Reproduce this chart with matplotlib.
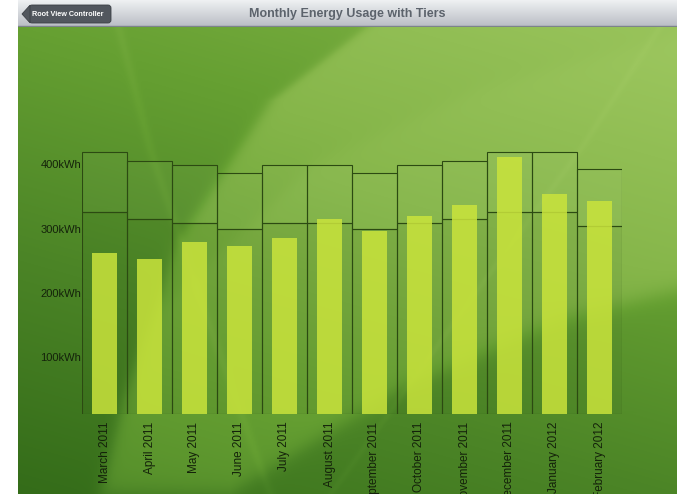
import numpy as np
import matplotlib
matplotlib.use("Agg")
from matplotlib import pyplot as plt
from matplotlib.patches import Polygon, FancyBboxPatch
from matplotlib.colors import LinearSegmentedColormap
import matplotlib.transforms as mtransforms

plt.rcParams['font.family'] = ['Liberation Sans', 'DejaVu Sans']

# data (kWh)
months = ["March 2011", "April 2011", "May 2011", "June 2011", "July 2011",
          "August 2011", "September 2011", "October 2011", "November 2011",
          "December 2011", "January 2012", "February 2012"]
usage = [249, 240, 267, 260, 273, 302, 284, 307, 324, 399, 342, 330]
tier1 = [313, 302, 297, 287, 297, 297, 287, 297, 302, 313, 313, 292]
tier2 = [406, 393, 386, 374, 386, 386, 374, 386, 393, 406, 406, 380]
y_ticks = [100, 200, 300, 400]
y_tick_labels = [f"{v}kWh" for v in y_ticks]
title = "Monthly Energy Usage with Tiers"
back_label = "Root View Controller"

W, H = 695, 494
fig = plt.figure(figsize=(W / 100, H / 100), dpi=100)
fig.patch.set_facecolor("white")

# ---- green wallpaper ----
sx0, sx1 = 18, 677
nav_h = 27
bw, bh = sx1 - sx0, H - nav_h
X, Y = np.meshgrid(np.arange(bw) + sx0, np.arange(bh) + nav_h)


def side_y(pts, soft):
    # ~1 below curve y=f(x)
    px, py = zip(*pts)
    return 1 / (1 + np.exp(-(Y - np.interp(X, px, py)) / soft))


def side_x(pts, soft):
    # ~1 right of curve x=g(y)
    py, px = zip(*pts)
    return 1 / (1 + np.exp(-(X - np.interp(Y, py, px)) / soft))


def streak(pts, width):
    py, px = zip(*pts)
    d = X - np.interp(Y, py, px)
    return np.exp(-(d / width) ** 2)


b = 0.5 + 0.2 * (X - sx0) / bw - 0.5 * (Y - nav_h) / bh
right_u = side_x([(27, 368), (101, 271), (241, 178), (400, 123), (494, 100)], 4)
below_l = side_y([(229, 494), (397, 390), (560, 320), (678, 290)], 6)
b += 0.26 * right_u * (1 - below_l)
b += 0.06 * right_u * below_l
arc = side_y([(170, 300), (313, 165), (480, 90), (678, 36)], 5)
b += 0.06 * right_u * arc * (1 - below_l)
b += 0.05 * streak([(27, 118), (150, 150), (300, 200), (494, 270)], 5)
b += 0.04 * streak([(27, 660), (150, 580), (300, 470), (494, 330)], 4)
b = np.clip(b, 0, 1)

cmap = LinearSegmentedColormap.from_list(
    "leaf", ["#346c19", "#4b8426", "#66a032", "#86b64a", "#9cc65e"])
bg = fig.add_axes([sx0 / W, 0, bw / W, bh / H])
bg.imshow(b, cmap=cmap, vmin=0, vmax=1, aspect="auto", interpolation="bilinear")
bg.axis("off")

# ---- navigation bar ----
nav = fig.add_axes([sx0 / W, (H - nav_h) / H, bw / W, nav_h / H])
grad = np.linspace(0, 1, nav_h)[:, None] * np.ones((1, 10))
navmap = LinearSegmentedColormap.from_list("nav", ["#eef0f2", "#b9bdc4"])
nav.imshow(grad, cmap=navmap, aspect="auto", extent=(0, bw, nav_h, 0))
nav.set_xlim(0, bw)
nav.set_ylim(nav_h, 0)
nav.axis("off")
nav.axhline(nav_h - 0.5, color="#7d838b", lw=1)
nav.text(329, 13.5, title, ha="center", va="center", fontsize=9,
         fontweight="bold", color="#5c636c")
nav.add_patch(FancyBboxPatch((11, 5), 82, 18, boxstyle="round,pad=0,rounding_size=3",
                             facecolor="#52575e", edgecolor="#3c4046", lw=0.6))
nav.add_patch(Polygon([(4, 14), (12, 5.2), (12, 22.8)], closed=True,
                      facecolor="#52575e", edgecolor="#3c4046", lw=0.6))
nav.text(50, 14, back_label, ha="center", va="center", fontsize=5.2,
         fontweight="bold", color="white")

# ---- chart ----
px_per_kwh = 0.643
ax_left, ax_right, ax_base, ax_top = 82, 622, 413.5, 30
ax = fig.add_axes([ax_left / W, (H - ax_base) / H, (ax_right - ax_left) / W,
                   (ax_base - ax_top) / H])
ax.patch.set_visible(False)
ax.set_xlim(-0.5, len(months) - 0.5)
ax.set_ylim(0, (ax_base - ax_top) / px_per_kwh)
for s in ax.spines.values():
    s.set_visible(False)

x = np.arange(len(months))
upper = np.array(tier2) - np.array(tier1)
ax.bar(x, tier1, width=1, facecolor=(0, 0.05, 0, 0.04), edgecolor="#2c4a12", lw=0.8)
ax.bar(x, upper, bottom=tier1, width=1, facecolor=(1, 1, 1, 0.03),
       edgecolor="#2c4a12", lw=0.8)
ax.bar(x, usage, width=0.556, color="#cae43c", alpha=0.85, lw=0)

ax.set_yticks(y_ticks, y_tick_labels)
ax.set_xticks(x, months, rotation=90)
ax.tick_params(axis="y", length=0, pad=0.5, labelsize=8, labelcolor="#14220a")
ax.tick_params(axis="x", length=0, pad=5.8, labelsize=8.5, labelcolor="#14220a")
shift = mtransforms.ScaledTranslation(0, -0.08, fig.dpi_scale_trans)
for lab in ax.get_yticklabels():
    lab.set_transform(lab.get_transform() + shift)

fig.savefig("out.png", dpi=100, facecolor="white")
